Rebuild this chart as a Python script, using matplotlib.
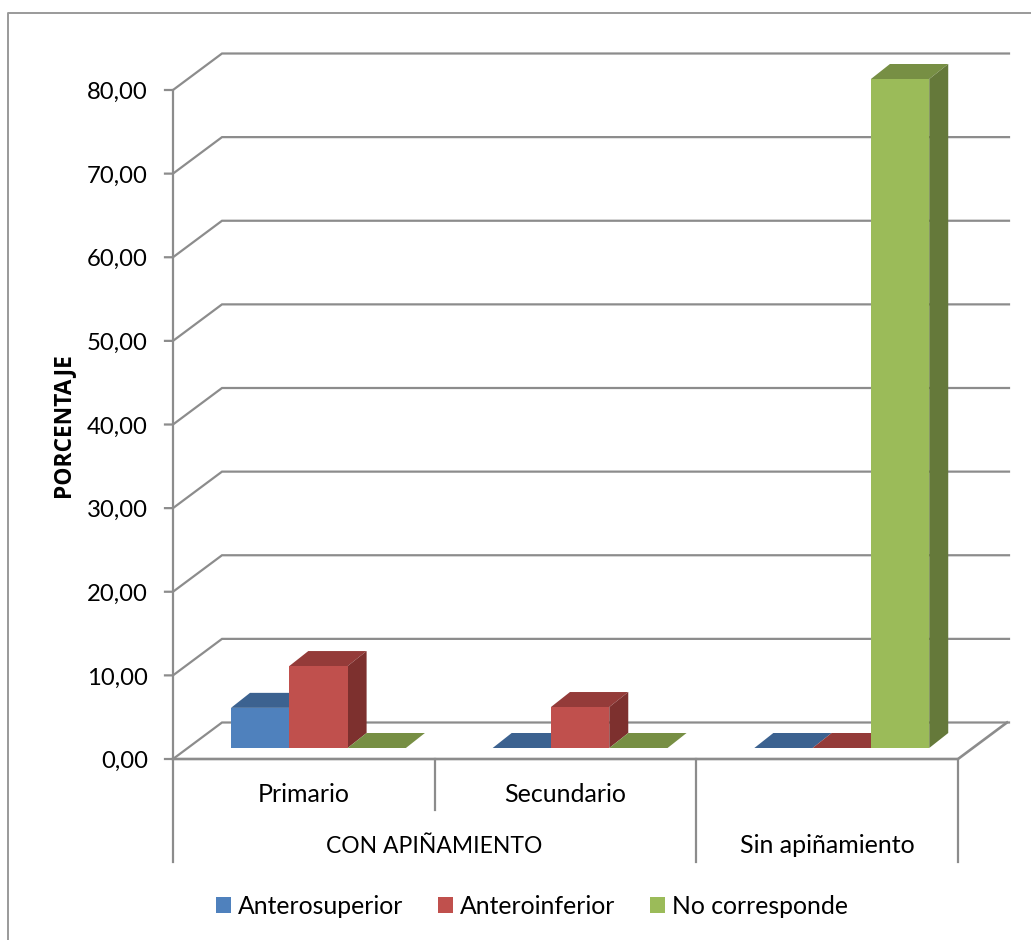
import matplotlib
matplotlib.use("Agg")
import matplotlib.pyplot as plt
from matplotlib.patches import Polygon, Patch
from matplotlib.lines import Line2D

plt.rcParams['font.family'] = ['Lato', 'DejaVu Sans']

# ---- data ----
groups = ["Primario", "Secundario", "Sin apiñamiento"]
outer_labels = ["CON APIÑAMIENTO", "Sin apiñamiento"]
series_names = ["Anterosuperior", "Anteroinferior", "No corresponde"]
anterosuperior = [4.8, 0.0, 0.0]
anteroinferior = [9.8, 4.9, 0.0]
no_corresponde = [0.0, 0.0, 80.0]
yticks = [0, 10, 20, 30, 40, 50, 60, 70, 80]

W, H = 1031, 940
fig = plt.figure(figsize=(W / 100, H / 100), dpi=100, facecolor="white")
L, R, T, B = 173, 958, 90, 759
ax = fig.add_axes([L / W, 1 - B / H, (R - L) / W, (B - T) / H])
ax.set_xlim(0, 3)
ax.set_ylim(0, 80)
ax.axis("off")

sx = (R - L) / 3      # px per category
sy = (B - T) / 80     # px per value unit
DX, DY = 49 / sx, 36.5 / sy       # wall depth
bx, by = 19 / sx, 15 / sy         # bar depth
inset = 11 / sy
bar_w = 58.3 / sx
first = 58 / sx

GRID = "#8C8C8C"
LW = 1.6

def fx(x):
    return x / W

def fy(y):
    return 1 - y / H

# outer frame
fig.add_artist(Line2D([fx(8), fx(8), fx(1031)], [fy(940), fy(13), fy(13)],
                      color="#9A9A9A", lw=1.4))

# walls
for v in yticks:
    ax.plot([-8 / sx, 0, DX, 3 + DX + 2 / sx], [v, v, v + DY, v + DY],
            color=GRID, lw=LW, clip_on=False, zorder=1, solid_joinstyle="miter")
    ax.text(-25 / sx, v - 2.5 / sy, f"{v:.2f}".replace(".", ","), ha="right", va="center",
            fontsize=17.2, color="black", clip_on=False)

# floor front and right edge
ax.plot([0, 3, 3 + DX], [0, 0, DY], color=GRID, lw=LW + .3, clip_on=False, zorder=1)

# front axis and separators below the floor
ax.plot([0, 0], [80, -103 / sy], color=GRID, lw=LW, clip_on=False, zorder=1)
ax.plot([1, 1], [0, -51 / sy], color=GRID, lw=LW, clip_on=False, zorder=1)
ax.plot([2, 2], [0, -103 / sy], color=GRID, lw=LW, clip_on=False, zorder=1)
ax.plot([3, 3], [0, -103 / sy], color=GRID, lw=LW, clip_on=False, zorder=1)

palette = [("#4F81BD", "#3C6290", "#345578"),
           ("#C0504D", "#943B39", "#7D302E"),
           ("#9BBB59", "#778F44", "#65793A")]
all_series = [anterosuperior, anteroinferior, no_corresponde]

z = 3
for g in range(len(groups)):
    for s, values in enumerate(all_series):
        v = values[g]
        x0 = g + first + s * bar_w
        x1 = x0 + bar_w
        front, top, side = palette[s]
        y0, y1 = inset, inset + v
        ax.add_patch(Polygon([(x0, y1), (x1, y1), (x1 + bx, y1 + by), (x0 + bx, y1 + by)],
                             closed=True, fc=top, ec="none", clip_on=False, zorder=z))
        if v > 0:
            ax.add_patch(Polygon([(x1, y0), (x1 + bx, y0 + by), (x1 + bx, y1 + by), (x1, y1)],
                                 closed=True, fc=side, ec="none", clip_on=False, zorder=z))
            ax.bar(x0, v, width=bar_w, bottom=y0, align="edge", color=front,
                   edgecolor="none", clip_on=False, zorder=z + 1)
        z += 2

# category labels
for g, name in enumerate(groups[:2]):
    ax.text(g + 0.5, -43 / sy, name, ha="center", va="baseline", fontsize=18, clip_on=False)
ax.text(1, -94 / sy, outer_labels[0], ha="center", va="baseline", fontsize=16.5, clip_on=False)
ax.text(2.5, -94 / sy, outer_labels[1], ha="center", va="baseline", fontsize=18, clip_on=False)

# y label
fig.text(fx(63), fy(425), "PORCENTAJE", rotation=90, ha="center", va="center",
         fontsize=16.4, fontweight="bold", family=["Open Sans", "DejaVu Sans"])

# legend
handles = [Patch(fc=p[0], ec="none") for p in palette]
fig.legend(handles, series_names, loc="center", bbox_to_anchor=(fx(532), fy(906)),
           ncol=3, frameon=False, fontsize=17.8, handlelength=0.62, handleheight=0.62,
           handletextpad=0.28, columnspacing=1.38, borderpad=0, borderaxespad=0)

fig.savefig("out.png", dpi=100, facecolor="white")
